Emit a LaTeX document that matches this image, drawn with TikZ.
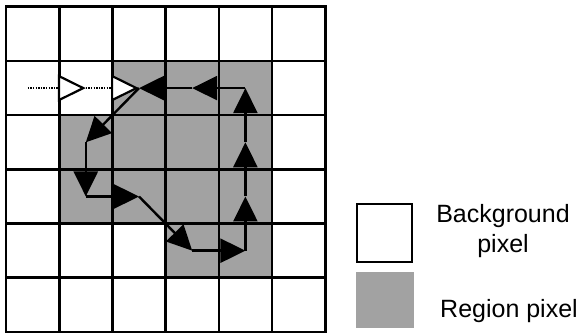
\documentclass[tikz,border=0pt]{standalone}
\usepackage{fontspec}
\setmainfont{Liberation Sans}
\usetikzlibrary{arrows.meta,positioning}
\definecolor{RegionGray}{HTML}{A2A2A2}

\tikzset{
  gridline/.style={line width=2.6pt,line cap=rect},
  regioncell/.style={fill=RegionGray},
  chainarrow/.style={line width=2.4pt,-{Triangle[length=25pt,width=24pt]}},
  entryline/.style={line width=1.6pt,dash pattern=on 1.3pt off 1.3pt,
    -{Triangle[open,fill=white,length=28pt,width=27pt,line width=2.2pt]}},
  legendtext/.style={font=\fontsize{25}{30}\selectfont,align=center,inner sep=0pt}
}

\begin{document}
\begin{tikzpicture}[line join=miter]
  \useasboundingbox (0,0) rectangle (577pt,336pt);
  \begin{scope}[shift={(6pt,4pt)},x=53.2pt,y=54.2pt]
    % region pixels
    \foreach \c/\r in {2/4,3/4,4/4,1/3,2/3,3/3,4/3,1/2,2/2,3/2,4/2,3/1,4/1}
      \fill[regioncell] (\c,\r) rectangle ++(1,1);
    % pixel grid
    \foreach \i in {0,...,6}{
      \draw[gridline] (\i,0) -- (\i,6);
      \draw[gridline] (0,\i) -- (6,\i);
    }
    % pixel centres
    \foreach \c in {0,...,5}
      \foreach \r in {0,...,5}
        \coordinate (p\c\r) at (\c+0.5,\r+0.5);
    \coordinate (entry) at (0.41,4.5);
    % entry into the region
    \draw[entryline] (entry) -- (p14);
    \draw[entryline] (p14) -- (p24);
    % boundary chain
    \foreach \a/\b in {p24/p13,p13/p12,p12/p22,p22/p31,p31/p41,p41/p42,p42/p43,p43/p44,p44/p34,p34/p24}
      \draw[chainarrow] (\a) -- (\b);
  \end{scope}
  % legend
  \node[draw,line width=2.6pt,minimum width=55pt,minimum height=58pt,inner sep=0pt] (bgbox) at (384.5pt,103pt) {};
  \node[regioncell,minimum width=58pt,minimum height=56pt,inner sep=0pt] (rgbox) at (385pt,36pt) {};
  \node[legendtext] (bglabel) at (503pt,105pt) {Background\\pixel};
  \node[legendtext,anchor=base] (rglabel) at (509pt,18pt) {Region pixel};
\end{tikzpicture}
\end{document}
